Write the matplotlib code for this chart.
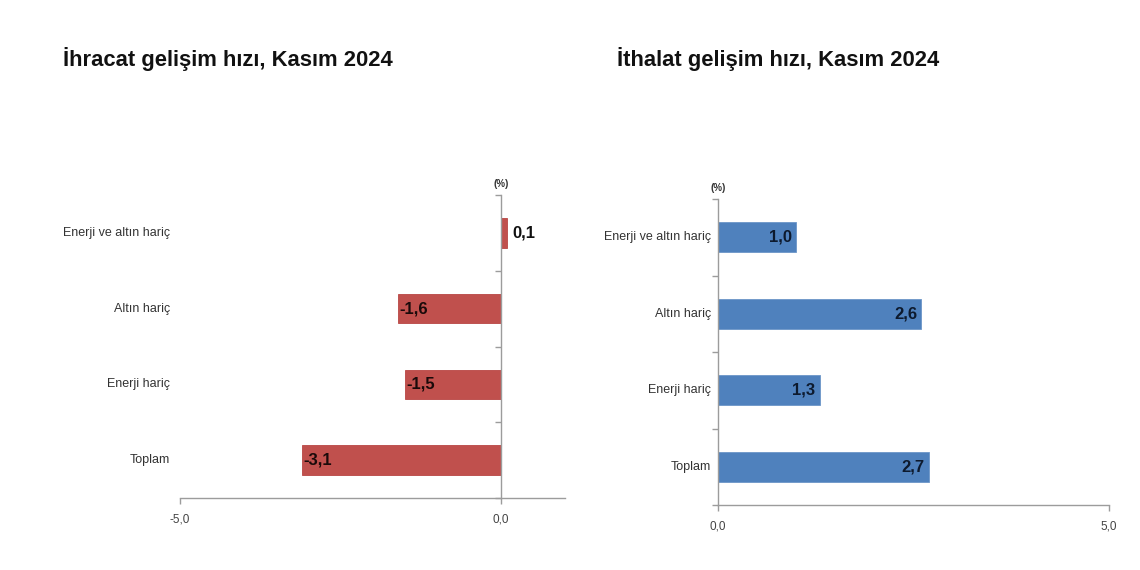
import matplotlib
matplotlib.use("Agg")
import matplotlib.pyplot as plt
import matplotlib.transforms as mtransforms

plt.rcParams['font.family'] = ['Liberation Sans', 'DejaVu Sans']

categories = ["Toplam", "Enerji hariç", "Altın hariç", "Enerji ve altın hariç"]
export_values = [-3.1, -1.5, -1.6, 0.1]
import_values = [2.7, 1.3, 2.6, 1.0]
export_title = "İhracat gelişim hızı, Kasım 2024"
import_title = "İthalat gelişim hızı, Kasım 2024"
export_xticks = [-5.0, 0.0]
import_xticks = [0.0, 5.0]
unit_label = "(%)"

RED = "#C0504D"
BLUE = "#4F81BD"
AXC = "#9C9C9C"

W, H = 1140, 570
fig = plt.figure(figsize=(W / 100, H / 100), dpi=100)


def fmt(v):
    return f"{v:.1f}".replace(".", ",")


def make_axes(l, r, t, b):
    return fig.add_axes([l / W, 1 - b / H, (r - l) / W, (b - t) / H])


def style(ax, xlim, xticks, spine_x, label_pad_px):
    ax.set_xlim(*xlim)
    ax.set_ylim(-0.5, len(categories) - 0.5)
    for s in ["top", "right"]:
        ax.spines[s].set_visible(False)
    ax.spines["left"].set_position(("data", spine_x))
    for s in ["left", "bottom"]:
        ax.spines[s].set_color(AXC)
        ax.spines[s].set_linewidth(1.0)
    ax.set_xticks(xticks)
    ax.set_xticklabels([fmt(v) for v in xticks])
    ax.set_yticks([i - 0.5 for i in range(len(categories) + 1)])
    ax.set_yticklabels([])
    ax.tick_params(axis="both", colors=AXC, length=4, width=1.0, direction="out")
    ax.tick_params(axis="x", labelcolor="#444444", labelsize=8.5, pad=7)
    trans = mtransforms.blended_transform_factory(ax.transAxes, ax.transData)
    off = mtransforms.ScaledTranslation(-label_pad_px / 100, 0, fig.dpi_scale_trans)
    for i, c in enumerate(categories):
        ax.text(0, i, c, transform=trans + off, ha="right", va="center",
                fontsize=9, color="#333333")
    ax.text(spine_x, len(categories) - 0.5, unit_label,
            transform=ax.transData + mtransforms.ScaledTranslation(0, 0.06, fig.dpi_scale_trans),
            ha="center", va="bottom", fontsize=7, color="#333333", fontweight="bold")


# Export (left)
ax1 = make_axes(180, 565, 195, 498)
ax1.barh(range(len(categories)), export_values, height=0.39, color=RED,
         edgecolor="#B84643", linewidth=0.6, zorder=2)
style(ax1, (-5.0, 1.0), export_xticks, 0.0, 10)
for i, v in enumerate(export_values):
    if v < 0:
        ax1.annotate(fmt(v), (v, i), xytext=(1, 0), textcoords="offset points",
                     ha="left", va="center", fontsize=12, fontweight="bold",
                     color="#1a0a0a")
    else:
        ax1.annotate(fmt(v), (v, i), xytext=(4, 0), textcoords="offset points",
                     ha="left", va="center", fontsize=12, fontweight="bold",
                     color="#111111")

# Import (right)
ax2 = make_axes(718, 1109, 199, 505)
ax2.barh(range(len(categories)), import_values, height=0.39, color=BLUE,
         edgecolor="#6C96C8", linewidth=0.6, zorder=2)
style(ax2, (0.0, 5.0), import_xticks, 0.0, 7)
for i, v in enumerate(import_values):
    ax2.annotate(fmt(v), (v, i), xytext=(-3, 0), textcoords="offset points",
                 ha="right", va="center", fontsize=12, fontweight="bold",
                 color="#0d1a2e")

fig.text(63 / W, 1 - 66 / H, export_title, fontsize=15.8, fontweight="bold",
         ha="left", va="baseline", color="#111111")
fig.text(617 / W, 1 - 66 / H, import_title, fontsize=15.8, fontweight="bold",
         ha="left", va="baseline", color="#111111")

fig.savefig("out.png", dpi=100, facecolor="white")
